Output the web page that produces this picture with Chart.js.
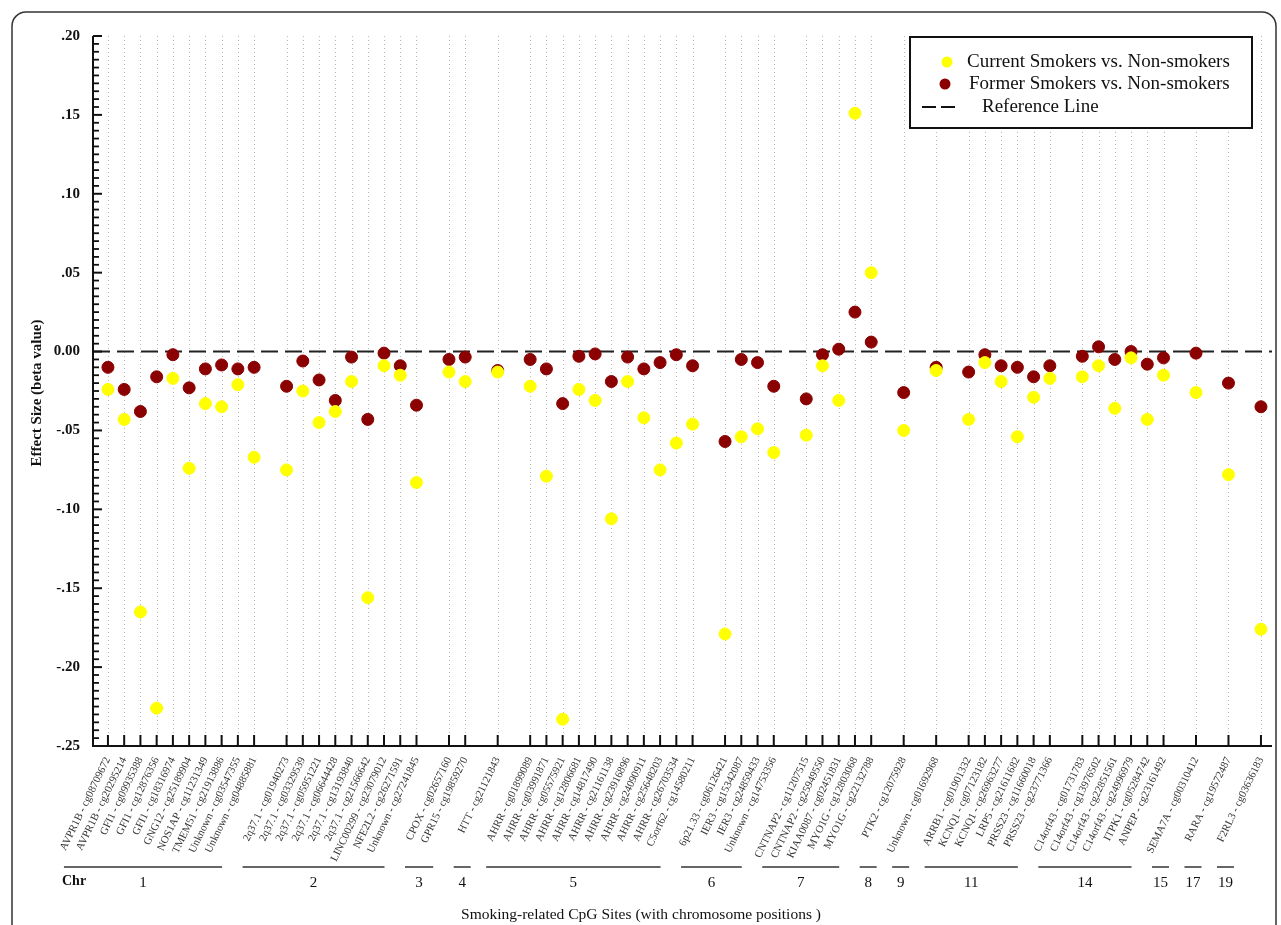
<!DOCTYPE html>
<html>
<head>
<meta charset="utf-8">
<title>Smoking-related CpG sites</title>
<script src="https://cdn.jsdelivr.net/npm/chart.js@4.4.1/dist/chart.umd.min.js"></script>
<style>
  html, body { margin: 0; padding: 0; background: #fff; }
  #wrap { width: 1281px; height: 925px; }
</style>
</head>
<body>
<div id="wrap"><canvas id="chart" width="1281" height="925"></canvas></div>
<script>
// chromosomes and how many sites each one holds (in plot order)
const chromosomes = ['1', '2', '3', '4', '5', '6', '7', '8', '9', '11', '14', '15', '17', '19'];
const sitesPerChr = [10, 9, 2, 1, 11, 4, 5, 1, 1, 6, 6, 1, 1, 1];

const siteLabels = [
  'AVPR1B - cg08709672', 'AVPR1B - cg20295214', 'GFI1 - cg09935388', 'GFI1 - cg12876356', 'GFI1 - cg18316974',
  'GNG12 - cg25189904', 'NOS1AP - cg11231349', 'TMEM51 - cg21913886', 'Unknown - cg03547355', 'Unknown - cg04885881',
  '2q37.1 - cg01940273', '2q37.1 - cg03329539', '2q37.1 - cg05951221', '2q37.1 - cg06644428', '2q37.1 - cg13193840',
  '2q37.1 - cg21566642', 'LINC00299 - cg23079012', 'NFE2L2 - cg26271591', 'Unknown - cg27241845',
  'CPOX - cg02657160', 'GPR15 - cg19859270',
  'HTT - cg21121843',
  'AHRR - cg01899089', 'AHRR - cg03991871', 'AHRR - cg05575921', 'AHRR - cg12806681', 'AHRR - cg14817490',
  'AHRR - cg21161138', 'AHRR - cg23916896', 'AHRR - cg24090911', 'AHRR - cg25648203', 'AHRR - cg26703534',
  'C5orf62 - cg14580211',
  '6p21.33 - cg06126421', 'IER3 - cg15342087', 'IER3 - cg24859433', 'Unknown - cg14753356',
  'CNTNAP2 - cg11207515', 'CNTNAP2 - cg25949550', 'KIAA0087 - cg02451831', 'MYO1G - cg12803068', 'MYO1G - cg22132788',
  'PTK2 - cg12075928',
  'Unknown - cg01692968',
  'ARRB1 - cg01901332', 'KCNQ1 - cg07123182', 'KCNQ1 - cg26963277', 'LRP5 - cg21611682', 'PRSS23 - cg11660018',
  'PRSS23 - cg23771366',
  'C14orf43 - cg01731783', 'C14orf43 - cg13976502', 'C14orf43 - cg22851561', 'C14orf43 - cg24996979',
  'ITPK1 - cg05284742', 'ANPEP - cg23161492',
  'SEMA7A - cg00310412',
  'RARA - cg19572487',
  'F2RL3 - cg03636183'
];

// effect sizes (beta values)
const currentSmokers = [
  -0.024, -0.043, -0.165, -0.226, -0.017, -0.074, -0.033, -0.035, -0.021, -0.067,
  -0.075, -0.025, -0.045, -0.038, -0.019, -0.156, -0.009, -0.015, -0.083,
  -0.013, -0.019,
  -0.013,
  -0.022, -0.079, -0.233, -0.024, -0.031, -0.106, -0.019, -0.042, -0.075, -0.058, -0.046,
  -0.179, -0.054, -0.049, -0.064,
  -0.053, -0.009, -0.031, 0.151, 0.050,
  -0.050,
  -0.012,
  -0.043, -0.007, -0.019, -0.054, -0.029, -0.017,
  -0.016, -0.009, -0.036, -0.004, -0.043, -0.015,
  -0.026,
  -0.078,
  -0.176
];
const formerSmokers = [
  -0.010, -0.024, -0.038, -0.016, -0.002, -0.023, -0.011, -0.0085, -0.011, -0.010,
  -0.022, -0.006, -0.018, -0.031, -0.0035, -0.043, -0.001, -0.009, -0.034,
  -0.005, -0.0035,
  -0.012,
  -0.005, -0.011, -0.033, -0.003, -0.0015, -0.019, -0.0035, -0.011, -0.007, -0.002, -0.009,
  -0.057, -0.005, -0.007, -0.022,
  -0.030, -0.002, 0.0015, 0.025, 0.006,
  -0.026,
  -0.010,
  -0.013, -0.002, -0.009, -0.010, -0.016, -0.009,
  -0.003, 0.003, -0.005, 0.000, -0.008, -0.004,
  -0.001,
  -0.020,
  -0.035
];

const yTickValues = [-0.25, -0.20, -0.15, -0.10, -0.05, 0, 0.05, 0.10, 0.15, 0.20];
const yTickLabels = ['-.25', '-.20', '-.15', '-.10', '-.05', '0.00', '.05', '.10', '.15', '.20'];

// slot index for every site, with one empty slot between chromosomes
const siteSlots = [];
const groups = [];
let slot = 0;
sitesPerChr.forEach((n, g) => {
  const first = slot;
  for (let i = 0; i < n; i++) siteSlots.push(slot++);
  groups.push({ chr: chromosomes[g], first: first, last: slot - 1 });
  slot++;
});
const xMin = -0.92, xMax = 71.68;
const labelBySlot = {};
siteSlots.forEach((s, i) => { labelBySlot[s] = siteLabels[i]; });

const SERIF = '"Liberation Serif", "Times New Roman", serif';

const decor = {
  id: 'decor',
  beforeDraw(chart) {
    const ctx = chart.ctx;
    ctx.save();
    ctx.fillStyle = '#fff';
    ctx.fillRect(0, 0, chart.width, chart.height);
    // rounded outer frame
    ctx.strokeStyle = '#333';
    ctx.lineWidth = 1.5;
    ctx.beginPath();
    ctx.roundRect(12, 12, 1264, 940, 14);
    ctx.stroke();
    ctx.restore();
  },
  beforeDatasetsDraw(chart) {
    const { ctx, chartArea: a, scales: { x } } = chart;
    ctx.save();
    ctx.strokeStyle = '#b8b8b8';
    ctx.lineWidth = 1;
    ctx.setLineDash([1, 3]);
    siteSlots.forEach(s => {
      const px = Math.round(x.getPixelForValue(s)) + 0.5;
      ctx.beginPath();
      ctx.moveTo(px, a.top);
      ctx.lineTo(px, a.bottom);
      ctx.stroke();
    });
    ctx.restore();
  },
  afterDraw(chart) {
    const { ctx, chartArea: a, scales: { x, y } } = chart;
    ctx.save();
    ctx.strokeStyle = '#111';
    ctx.lineWidth = 2;
    // axes
    ctx.beginPath();
    ctx.moveTo(a.left, a.top);
    ctx.lineTo(a.left, a.bottom);
    ctx.lineTo(a.right, a.bottom);
    ctx.stroke();
    // x ticks (inward)
    siteSlots.forEach(s => {
      const px = x.getPixelForValue(s);
      ctx.beginPath();
      ctx.moveTo(px, a.bottom);
      ctx.lineTo(px, a.bottom - 11);
      ctx.stroke();
    });
    // y ticks: major every .05, minor every .005
    for (let k = -50; k <= 40; k++) {
      const py = y.getPixelForValue(k * 0.005);
      const major = k % 10 === 0;
      ctx.lineWidth = major ? 2 : 1.8;
      ctx.beginPath();
      ctx.moveTo(a.left, py);
      ctx.lineTo(a.left + (major ? 9 : 6), py);
      ctx.stroke();
    }

    // y title
    ctx.fillStyle = '#111';
    ctx.font = 'bold 15px ' + SERIF;
    ctx.textAlign = 'center';
    ctx.textBaseline = 'middle';
    ctx.save();
    ctx.translate(37, 393);
    ctx.rotate(-Math.PI / 2);
    ctx.fillText('Effect Size (beta value)', 0, 0);
    ctx.restore();

    // chromosome row
    ctx.font = 'bold 14px ' + SERIF;
    ctx.textAlign = 'left';
    ctx.fillText('Chr', 62, 881);
    ctx.font = '15px ' + SERIF;
    ctx.textAlign = 'center';
    ctx.lineWidth = 1.5;
    ctx.strokeStyle = '#333';
    groups.forEach(gp => {
      const p1 = x.getPixelForValue(gp.first);
      const p2 = x.getPixelForValue(gp.last);
      const x1 = p1 - 44;
      const x2 = Math.max(p2 - 32, p1 - 27);
      ctx.beginPath();
      ctx.moveTo(x1, 867);
      ctx.lineTo(x2, 867);
      ctx.stroke();
      ctx.fillText(gp.chr, (x1 + x2) / 2, 883);
    });

    // x title
    ctx.font = '15.5px ' + SERIF;
    ctx.fillText('Smoking-related CpG Sites (with chromosome positions )', 641, 915);

    // legend
    ctx.fillStyle = '#fff';
    ctx.fillRect(910, 37, 342, 91);
    ctx.strokeStyle = '#111';
    ctx.lineWidth = 2;
    ctx.strokeRect(910, 37, 342, 91);
    ctx.fillStyle = '#FFFF00';
    ctx.beginPath(); ctx.arc(947, 62, 5.5, 0, Math.PI * 2); ctx.fill();
    ctx.fillStyle = '#8B0000';
    ctx.beginPath(); ctx.arc(945, 84, 5.5, 0, Math.PI * 2); ctx.fill();
    ctx.beginPath();
    ctx.moveTo(922, 107); ctx.lineTo(936, 107);
    ctx.moveTo(941, 107); ctx.lineTo(955, 107);
    ctx.stroke();
    ctx.fillStyle = '#111';
    ctx.font = '19px ' + SERIF;
    ctx.textAlign = 'left';
    ctx.fillText('Current Smokers vs. Non-smokers', 967, 62);
    ctx.fillText('Former Smokers vs. Non-smokers', 969, 84);
    ctx.fillText('Reference Line', 982, 107);
    ctx.restore();
  }
};

const toPoints = vals => vals.map((v, i) => ({ x: siteSlots[i], y: v }));

new Chart(document.getElementById('chart'), {
  type: 'scatter',
  data: {
    datasets: [
      {
        label: 'Current Smokers vs. Non-smokers',
        data: toPoints(currentSmokers),
        backgroundColor: '#FFFF00',
        borderColor: '#FFFF00',
        pointRadius: 6,
        pointHoverRadius: 6
      },
      {
        label: 'Former Smokers vs. Non-smokers',
        data: toPoints(formerSmokers),
        backgroundColor: '#8B0000',
        borderColor: '#8B0000',
        pointRadius: 6,
        pointHoverRadius: 6
      },
      {
        type: 'line',
        label: 'Reference Line',
        data: [{ x: xMin, y: 0 }, { x: xMax, y: 0 }],
        borderColor: '#222',
        borderWidth: 2,
        borderDash: [17, 7],
        pointRadius: 0,
        fill: false
      }
    ]
  },
  options: {
    responsive: false,
    animation: false,
    devicePixelRatio: 1,
    layout: { padding: { top: 36, right: 9, left: 0, bottom: 0 } },
    plugins: { legend: { display: false }, tooltip: { enabled: false } },
    scales: {
      x: {
        type: 'linear',
        min: xMin,
        max: xMax,
        afterBuildTicks: s => { s.ticks = siteSlots.map(v => ({ value: v })); },
        afterFit: s => { s.height = 179; },
        grid: { display: false },
        border: { display: false },
        ticks: {
          autoSkip: false,
          minRotation: 64,
          maxRotation: 64,
          padding: 1,
          color: '#333',
          font: { family: SERIF, size: 10.8 },
          callback: v => labelBySlot[v] || ''
        }
      },
      y: {
        min: -0.25,
        max: 0.2,
        afterBuildTicks: s => { s.ticks = yTickValues.map(v => ({ value: v })); },
        afterFit: s => { s.width = 93; },
        grid: { display: false },
        border: { display: false },
        ticks: {
          padding: 5,
          color: '#111',
          font: { family: SERIF, size: 15, weight: 'bold' },
          callback: (v, i) => yTickLabels[i]
        }
      }
    }
  },
  plugins: [decor]
});
</script>
</body>
</html>
